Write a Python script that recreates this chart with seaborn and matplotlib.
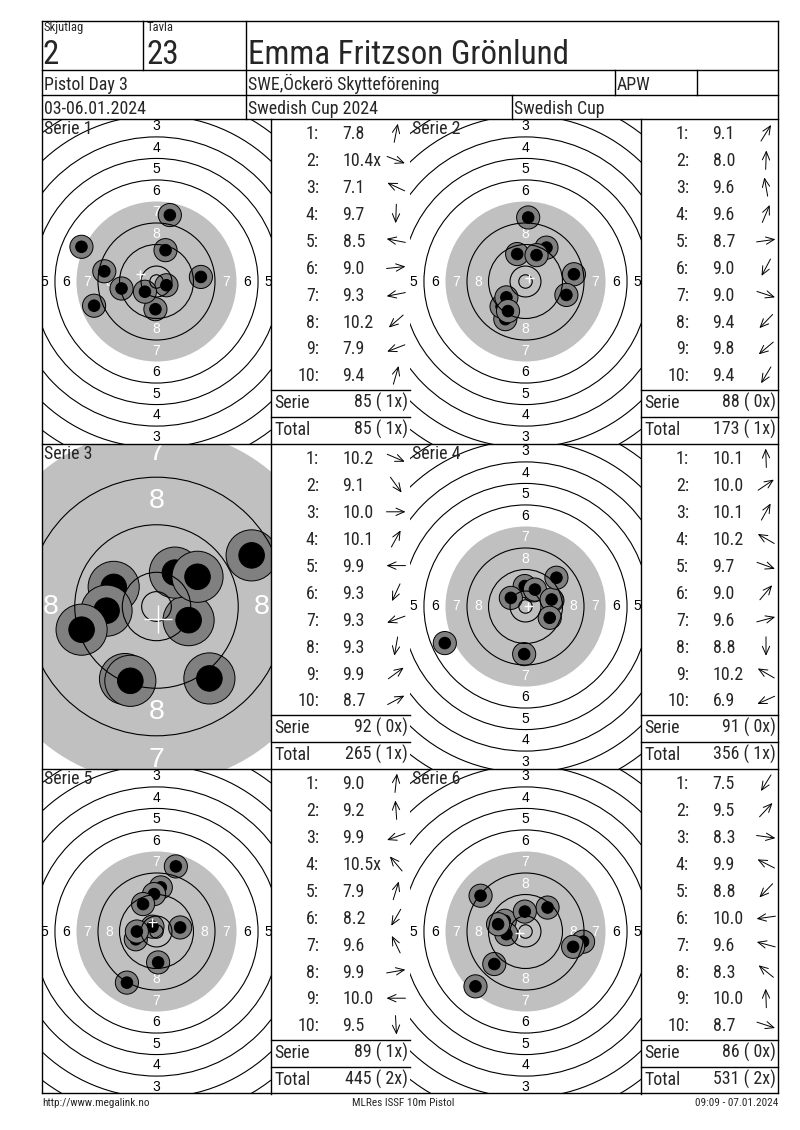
import numpy as np
import pandas as pd
import matplotlib
matplotlib.use("Agg")
import matplotlib.pyplot as plt
from matplotlib import font_manager
import seaborn as sns

sns.set_theme(style="white")
installed = {f.name for f in font_manager.fontManager.ttflist}
# narrow sans for the report text, with a scaled-down fallback
if "Liberation Sans Narrow" in installed:
    NARROW, SZ = "Liberation Sans Narrow", 1.0
elif "Roboto Condensed" in installed:
    NARROW, SZ = "Roboto Condensed", 0.955
else:
    NARROW, SZ = "Liberation Sans", 0.87
plt.rcParams["font.family"] = [NARROW, "DejaVu Sans"]

# ---------------------------
# Header / footer text
# ---------------------------
relay_label, lane_label = "Skjutlag", "Tavla"
relay, lane = "2", "23"
shooter = "Emma Fritzson Grönlund"
event = "Pistol Day 3"
club = "SWE,Öckerö Skytteförening"
shooter_class = "APW"
dates = "03-06.01.2024"
competition = "Swedish Cup 2024"
cup = "Swedish Cup"
footer_left = "http://www.megalink.no"
footer_mid = "MLRes ISSF 10m Pistol"
footer_right = "09:09 - 07.01.2024"

# ---------------------------
# Series data (shot positions in mm from centre, scores, arrow directions in degrees)
# ---------------------------
serie_names = ["Serie 1", "Serie 2", "Serie 3", "Serie 4", "Serie 5", "Serie 6"]

x1 = [4.96, 3.7, -27.9, -0.4, -19.4, 16.5, -13.0, -4.3, -23.2, 3.35]
y1 = [24.7, -1.4, 12.9, -10.3, 3.8, 1.7, -2.6, -3.8, -9.0, 11.65]
scores1 = ["7.8", "10.4x", "7.1", "9.7", "8.5", "9.0", "9.3", "10.2", "7.9", "9.4"]
dirs1 = [79, -21, 155, -92, 169, 6, 191, 221, 201, 74]

x2 = [7.8, 1.0, -3.1, 4.1, 18.0, -7.5, 15.2, -8.9, -7.1, -6.5]
y2 = [12.6, 23.8, 10.2, 9.8, 2.7, -14.0, -5.0, -9.3, -5.9, -11.0]
scores2 = ["9.1", "8.0", "9.6", "9.6", "8.7", "9.0", "9.0", "9.4", "9.8", "9.4"]
dirs2 = [58, 88, 100, 67, 8, 242, -18, 226, 220, 239]

x3 = [5.4, 8.9, 3.1, 6.9, -7.2, -8.4, -12.6, -5.3, -4.4, 16.0]
y3 = [-2.3, -12.1, 5.7, 5.0, 3.3, -0.7, -3.9, -12.2, -12.5, 8.6]
scores3 = ["10.2", "9.1", "10.0", "10.1", "9.9", "9.3", "9.3", "9.3", "9.9", "8.7"]
dirs3 = [-23, -54, 0, 61, 180, 245, 200, 260, 36, 28]

x4 = [3.0, 10.0, -0.3, 3.5, -5.45, 9.7, 11.5, 9.0, -0.5, -30.0]
y4 = [6.0, 2.2, 7.6, 6.3, 3.2, 2.6, 10.7, -4.2, -17.7, -13.6]
scores4 = ["10.1", "10.0", "10.1", "10.2", "9.7", "9.0", "9.6", "8.8", "10.2", "6.9"]
dirs4 = [92, 34, 61, 150, -20, 50, 15, -90, 150, 204]

x5 = [1.6, -0.9, -7.7, -1.5, 7.2, -11.0, -5.0, 8.8, -7.3, 0.6]
y5 = [16.4, 13.9, -2.9, 1.8, 24.2, -19.0, 10.2, 1.5, 0.0, -11.5]
scores5 = ["9.0", "9.2", "9.9", "10.5x", "7.9", "8.2", "9.6", "9.9", "10.0", "9.5"]
dirs5 = [84, 94, 200, 130, 73, 240, 116, 10, 180, -87]

x6 = [-18.6, 8.2, 21.4, -7.7, -11.6, -7.1, -10.2, -16.7, -0.25, 17.7]
y6 = [-20.4, 8.9, -3.8, 4.0, -12.1, -1.0, 2.7, 13.3, 7.4, -5.7]
scores6 = ["7.5", "9.5", "8.3", "9.9", "8.8", "10.0", "9.6", "8.3", "10.0", "8.7"]
dirs6 = [238, 47, -8, 153, 226, 188, 165, 141, 92, -18]

serie_sums = ["85 ( 1x)", "88 ( 0x)", "92 ( 0x)", "91 ( 0x)", "89 ( 1x)", "86 ( 0x)"]
totals = ["85 ( 1x)", "173 ( 1x)", "265 ( 1x)", "356 ( 1x)", "445 ( 2x)", "531 ( 2x)"]
zooms = [1, 1, 2.21, 1, 1, 1]

series = [(x1, y1, scores1, dirs1), (x2, y2, scores2, dirs2), (x3, y3, scores3, dirs3),
          (x4, y4, scores4, dirs4), (x5, y5, scores5, dirs5), (x6, y6, scores6, dirs6)]

# ---------------------------
# Figure and page layer (pixel coordinates)
# ---------------------------
W, H = 800, 1130
fig = plt.figure(figsize=(W / 100, H / 100), dpi=100)
fig.patch.set_facecolor("white")
page = fig.add_axes([0, 0, 1, 1])
page.set_xlim(0, W)
page.set_ylim(H, 0)
page.axis("off")
page.set_zorder(10)
page.patch.set_visible(False)

LW = 1.0
def hline(y, xa, xb):
    page.plot([xa, xb], [y, y], color="black", lw=LW, solid_capstyle="projecting")

def vline(x, ya, yb):
    page.plot([x, x], [ya, yb], color="black", lw=LW, solid_capstyle="projecting")

def txt(x, y, s, size, **kw):
    page.text(x, y, s, fontsize=size * SZ, va="baseline", **kw)

LEFT, RIGHT, TOP, BOTTOM = 42, 778, 21, 1093
GRID_TOP = 119
BLOCK = 325

# header
for y in [TOP, 70, 95, GRID_TOP, GRID_TOP + BLOCK, GRID_TOP + 2 * BLOCK, BOTTOM]:
    hline(y, LEFT, RIGHT)
vline(LEFT, TOP, BOTTOM)
vline(RIGHT, TOP, BOTTOM)
vline(143, TOP, 70)
vline(246, TOP, GRID_TOP)
vline(615, 70, 95)
vline(697, 70, 95)
vline(512, 95, GRID_TOP)

txt(44, 31, relay_label, 9.5)
txt(147, 31, lane_label, 9.5)
txt(43, 64, relay, 25)
txt(146, 64, lane, 25)
txt(248, 64, shooter, 25)
txt(44, 90, event, 13.5)
txt(248, 90, club, 13.5)
txt(617, 90, shooter_class, 13.5)
txt(44, 113.5, dates, 13.5)
txt(248, 113.5, competition, 13.5)
txt(514, 113.5, cup, 13.5)

txt(42, 1106, footer_left, 8.5)
txt(403, 1106, footer_mid, 8.5, ha="center")
txt(778, 1106, footer_right, 8.5, ha="right")

# ---------------------------
# Targets and score tables
# ---------------------------
PPM = 2.69            # pixels per mm at normal zoom
BLACK_R = 29.75       # radius of the aiming black (ring 7)
HOLE_R, CORE_R = 4.3, 2.15
ring_radii = [2.5] + [5.75 + 8 * k for k in range(10) if k != 3]

for k, ((xs, ys, scores, dirs), name, zoom) in enumerate(zip(series, serie_names, zooms)):
    col, row = k % 2, k // 2
    bx0, bx1 = [(LEFT, 271), (410, 641)][col]
    by0 = GRID_TOP + row * BLOCK
    by1 = by0 + BLOCK
    tx0, tx1 = [(271, 410), (641, RIGHT)][col]

    vline(bx1, by0, by1)

    ax = fig.add_axes([bx0 / W, 1 - by1 / H, (bx1 - bx0) / W, (by1 - by0) / H])
    ppm = PPM * zoom
    hw, hh = (bx1 - bx0) / 2 / ppm, (by1 - by0) / 2 / ppm

    # target face
    ax.add_patch(plt.Circle((0, 0), BLACK_R, color="#c0c0c0", lw=0, zorder=1))
    label_fs = 10 * zoom ** 0.9
    for n in range(1, 9):
        r = 1.75 + 8 * (10 - n)
        c = "white" if n >= 7 else "black"
        for px, py in [(0, r), (0, -r), (r, 0), (-r, 0)]:
            ax.text(px, py, str(n), ha="center", va="center", color=c, fontsize=label_fs,
                    family=["Liberation Sans", "DejaVu Sans"], zorder=2, clip_on=True)
    for r in ring_radii:
        ax.add_patch(plt.Circle((0, 0), r, fill=False, ec="black", lw=0.8, zorder=4))

    # shots: grey hole then black core, interleaved so later shots cover earlier ones
    rows = []
    for sx, sy in zip(xs, ys):
        rows.append((sx, sy, "hole"))
        rows.append((sx, sy, "core"))
    df = pd.DataFrame(rows, columns=["x", "y", "part"])
    s_hole = (2 * HOLE_R * ppm * 0.72) ** 2
    s_core = (2 * CORE_R * ppm * 0.72) ** 2
    sns.scatterplot(data=df, x="x", y="y", hue="part", size="part",
                    palette={"hole": "#808080", "core": "black"},
                    sizes={"hole": s_hole, "core": s_core},
                    edgecolor="black", linewidth=0.7, legend=False, ax=ax, zorder=3)

    # mean point of impact
    cross_px = 9 * zoom ** 1.4
    ax.plot([np.mean(xs)], [np.mean(ys)], marker="+", ms=cross_px * 0.72, mew=1.0,
            color="white", zorder=6, ls="none")

    ax.set_xlim(-hw, hw)
    ax.set_ylim(-hh, hh)
    ax.axis("off")

    txt(bx0 + 1.5, by0 + 15, name, 13.5)

    # score table
    for i, (sc, d) in enumerate(zip(scores, dirs)):
        cy = by0 + 14 + 26.9 * i
        txt(tx0 + 48, cy + 6.3, f"{i + 1}:", 13.5, ha="right")
        txt(tx0 + 71.5, cy + 6.3, sc, 13.5)
        ax_c = tx0 + 125
        a = np.deg2rad(d)
        half = 9.5
        page.annotate("", xy=(ax_c + half * np.cos(a), cy - half * np.sin(a)),
                      xytext=(ax_c - half * np.cos(a), cy + half * np.sin(a)),
                      arrowprops=dict(arrowstyle="->,head_length=0.5,head_width=0.22",
                                      lw=0.7, color="black", shrinkA=0, shrinkB=0))
    hline(by0 + 271, tx0, tx1)
    hline(by0 + 298, tx0, tx1)
    txt(tx0 + 3.5, by0 + 289, "Serie", 13.5)
    txt(tx1 - 2, by0 + 289, serie_sums[k], 13.5, ha="right")
    txt(tx0 + 3.5, by0 + 316, "Total", 13.5)
    txt(tx1 - 2, by0 + 316, totals[k], 13.5, ha="right")

fig.savefig("out.png", dpi=100, facecolor="white")
plt.close(fig)
